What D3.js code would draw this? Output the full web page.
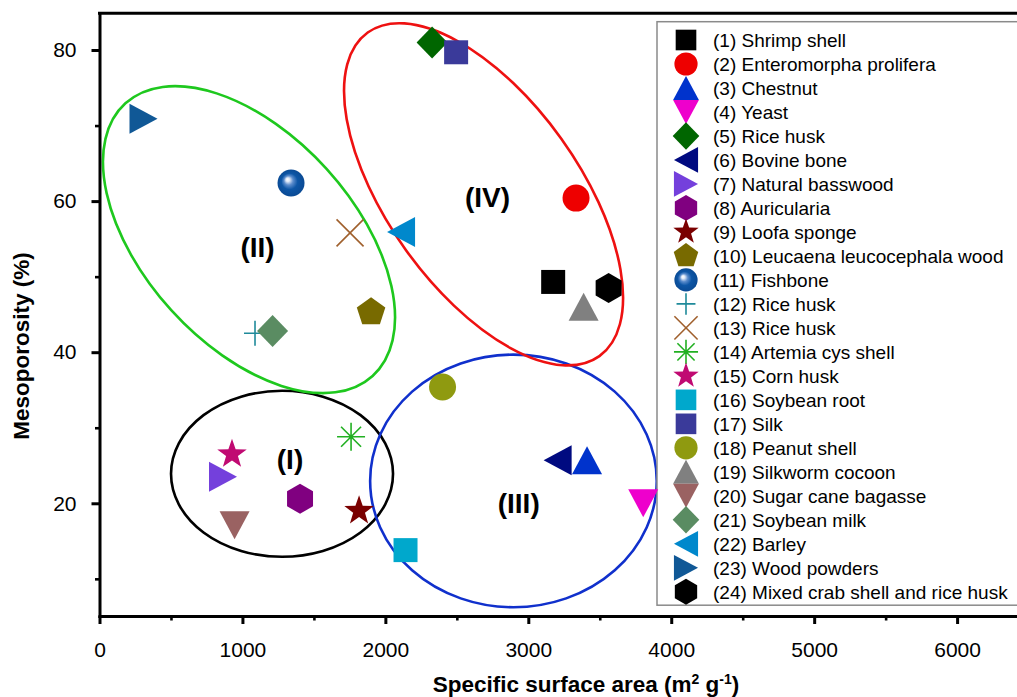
<!DOCTYPE html>
<html>
<head>
<meta charset="utf-8">
<script src="https://cdn.jsdelivr.net/npm/d3@7"></script>
<style>
  body { margin: 0; background: #fff; }
  svg { display: block; }
</style>
</head>
<body>
<svg id="chart" width="1017" height="697"></svg>
<script>
// Biochar precursors: specific surface area vs. mesoporosity
const materials = [
  "(1) Shrimp shell", "(2) Enteromorpha prolifera", "(3) Chestnut", "(4) Yeast",
  "(5) Rice husk", "(6) Bovine bone", "(7) Natural basswood", "(8) Auricularia",
  "(9) Loofa sponge", "(10) Leucaena leucocephala wood", "(11) Fishbone", "(12) Rice husk",
  "(13) Rice husk", "(14) Artemia cys shell", "(15) Corn husk", "(16) Soybean root",
  "(17) Silk", "(18) Peanut shell", "(19) Silkworm cocoon", "(20) Sugar cane bagasse",
  "(21) Soybean milk", "(22) Barley", "(23) Wood powders", "(24) Mixed crab shell and rice husk"
];
const surfaceArea = [3174, 3334, 3411, 3804, 2327, 3205, 864, 1403, 1816, 1900, 1340, 1088,
                     1753, 1760, 927, 2141, 2495, 2400, 3387, 945, 1211, 2110, 308, 3562];
const mesoporosity = [49.3, 60.4, 25.7, 20.0, 81.0, 25.7, 23.5, 20.6, 19.0, 45.3, 62.4, 42.5,
                      55.8, 28.8, 26.5, 13.8, 79.7, 35.4, 46.0, 17.1, 42.8, 55.9, 70.9, 48.5];
const markerShapes = ["square", "circle", "triangleUp", "triangleDown", "diamond", "triangleLeft",
  "triangleRight", "hexagon", "star", "pentagon", "sphere", "plus", "cross", "asterisk", "star",
  "square", "square", "circle", "triangleUp", "triangleDown", "diamond", "triangleLeft",
  "triangleRight", "hexagon"];
const markerColors = ["#000000", "#ee0000", "#0033cc", "#ee00cc", "#006600", "#000a80",
  "#7440dc", "#800080", "#7a0000", "#786a00", "#0b4f9e", "#1f8a9a", "#a0602d", "#22b022",
  "#c00a72", "#00a8cc", "#3a3a9a", "#8f9a10", "#808080", "#9a6262", "#5a8c62", "#0088cc",
  "#105896", "#000000"];

const xTicks = [0, 1000, 2000, 3000, 4000, 5000, 6000];
const xMinorTicks = [500, 1500, 2500, 3500, 4500, 5500, 6500];
const yTicks = [20, 40, 60, 80];
const yMinorTicks = [10, 30, 50, 70];

// Cluster groups (I)-(IV): centre and label anchor in data units
const clusterNames = ["(I)", "(II)", "(III)", "(IV)"];
const clusterCentreX = [1277, 1046, 2896, 2687];
const clusterCentreY = [23.9, 54.9, 22.96, 60.9];
const clusterLabelX = [1333, 1106, 2933, 2715];
const clusterLabelY = [25.9, 54.0, 20.1, 60.5];

// Outline drawing settings (semi-axes in px, rotation in degrees)
const clusterOutline = [
  { rx: 111, ry: 83, angle: 0, color: "#000000" },
  { rx: 184, ry: 105, angle: 47.8, color: "#1ec81e" },
  { rx: 143.3, ry: 126.3, angle: 0, color: "#1030cc" },
  { rx: 199, ry: 95.6, angle: 54.4, color: "#ee1111" }
];

const FONT = "'Liberation Sans', Arial, Helvetica, sans-serif";
const svg = d3.select("#chart");

const x = d3.scaleLinear().domain([0, 6580]).range([99.5, 1040]);
const y = d3.scaleLinear().domain([5.08, 84.86]).range([616, 13.3]);

// Marker glyphs
function poly(pts, k) {
  return "M" + pts.map(p => (p[0] * k).toFixed(2) + "," + (p[1] * k).toFixed(2)).join("L") + "Z";
}
function regular(n, r, rot) {
  return d3.range(n).map(i => {
    const a = rot + i * 2 * Math.PI / n;
    return [r * Math.cos(a), r * Math.sin(a)];
  });
}
function starPts(R, r) {
  return d3.range(10).map(i => {
    const a = -Math.PI / 2 + i * Math.PI / 5;
    const rr = i % 2 === 0 ? R : r;
    return [rr * Math.cos(a), rr * Math.sin(a)];
  });
}
function glyph(type, k) {
  switch (type) {
    case "square": return poly([[-12, -12], [12, -12], [12, 12], [-12, 12]], k);
    case "circle":
    case "sphere": {
      const p = d3.path(); p.arc(0, 0, 13.5 * k, 0, 2 * Math.PI); p.closePath(); return p.toString();
    }
    case "triangleUp": return poly([[0, -14], [15, 14], [-15, 14]], k);
    case "triangleDown": return poly([[0, 14], [15, -14], [-15, -14]], k);
    case "triangleLeft": return poly([[-14, 0], [14, -15], [14, 15]], k);
    case "triangleRight": return poly([[14, 0], [-14, -15], [-14, 15]], k);
    case "diamond": return poly([[0, -16], [15.5, 0], [0, 16], [-15.5, 0]], k);
    case "hexagon": return poly(regular(6, 15, -Math.PI / 2), k);
    case "pentagon": return poly(regular(5, 15, -Math.PI / 2), k);
    case "star": return poly(starPts(15.5, 6.2), k);
    case "plus": return `M${-11 * k},0H${11 * k}M0,${-12.5 * k}V${12.5 * k}`;
    case "cross": return `M${-13.5 * k},${-13.5 * k}L${13.5 * k},${13.5 * k}M${-13.5 * k},${13.5 * k}L${13.5 * k},${-13.5 * k}`;
    case "asterisk": {
      const a = 14 * k, d = 10 * k;
      return `M${-a},0H${a}M0,${-a}V${a}M${-d},${-d}L${d},${d}M${-d},${d}L${d},${-d}`;
    }
  }
}
const lineShapes = new Set(["plus", "cross", "asterisk"]);

// Gradient for the shaded sphere marker
const defs = svg.append("defs");
const grad = defs.append("radialGradient").attr("id", "sphereFill")
  .attr("cx", "0.5").attr("cy", "0.5").attr("r", "0.5")
  .attr("fx", "0.36").attr("fy", "0.36");
grad.append("stop").attr("offset", "0%").attr("stop-color", "#ffffff");
grad.append("stop").attr("offset", "14%").attr("stop-color", "#dfe8f6");
grad.append("stop").attr("offset", "34%").attr("stop-color", "#5b8ccc");
grad.append("stop").attr("offset", "60%").attr("stop-color", "#0d56a6");
grad.append("stop").attr("offset", "100%").attr("stop-color", "#0a4a94");

function styleMarker(sel) {
  sel.attr("fill", d => lineShapes.has(d.shape) ? "none" : (d.shape === "sphere" ? "url(#sphereFill)" : d.color))
     .attr("stroke", d => lineShapes.has(d.shape) ? d.color : "none")
     .attr("stroke-width", d => lineShapes.has(d.shape) ? 1.6 : 0);
}

const points = materials.map((name, i) => ({
  name, sa: surfaceArea[i], meso: mesoporosity[i], shape: markerShapes[i], color: markerColors[i]
}));

// Cluster outlines
const clusters = clusterNames.map((name, i) => ({
  name, cx: clusterCentreX[i], cy: clusterCentreY[i], lx: clusterLabelX[i], ly: clusterLabelY[i],
  ...clusterOutline[i]
}));
svg.append("g").selectAll("ellipse").data(clusters).join("ellipse")
  .attr("transform", d => `translate(${x(d.cx)},${y(d.cy)}) rotate(${d.angle})`)
  .attr("rx", d => d.rx).attr("ry", d => d.ry)
  .attr("fill", "none").attr("stroke", d => d.color).attr("stroke-width", 2.6);

svg.append("g").selectAll("text").data(clusters).join("text")
  .attr("x", d => x(d.lx)).attr("y", d => y(d.ly)).attr("dy", "0.36em")
  .attr("text-anchor", "middle")
  .attr("font-family", FONT).attr("font-weight", "bold").attr("font-size", 28)
  .attr("fill", "#000")
  .text(d => d.name);

// Legend
const legendTop = 40, legendStep = 23.99;
const legend = svg.append("g");
legend.append("rect").attr("x", 657).attr("y", 21.7).attr("width", 420).attr("height", 583.5)
  .attr("fill", "#fff").attr("stroke", "#8a8a8a").attr("stroke-width", 1.5);
const rows = legend.selectAll("g.row").data(points).join("g")
  .attr("class", "row")
  .attr("transform", (d, i) => `translate(0,${legendTop + i * legendStep})`);
rows.append("path").attr("transform", "translate(686,0)")
  .attr("d", d => glyph(d.shape, 0.86)).call(styleMarker);
rows.append("text").attr("x", 713).attr("dy", "0.36em")
  .attr("font-family", FONT).attr("font-size", 19).attr("fill", "#000")
  .text(d => d.name);

// Data markers
svg.append("g").selectAll("path").data(points).join("path")
  .attr("transform", d => `translate(${x(d.sa)},${y(d.meso)})`)
  .attr("d", d => glyph(d.shape, 1)).call(styleMarker);

// Axes
function styleAxis(g, size) {
  g.attr("font-family", FONT).attr("font-size", size);
  g.selectAll(".domain").attr("stroke-width", 3).attr("stroke-linecap", "square");
  g.selectAll(".tick line").attr("stroke-width", 3);
  g.selectAll("text").attr("fill", "#000");
}
const gxMinor = svg.append("g").attr("transform", `translate(0,${y.range()[0]})`)
  .call(d3.axisBottom(x).tickValues(xMinorTicks).tickSize(4.5).tickFormat(""));
gxMinor.select(".domain").remove();
gxMinor.selectAll(".tick line").attr("stroke-width", 2.6);

const gyMinor = svg.append("g").attr("transform", `translate(${x.range()[0]},0)`)
  .call(d3.axisLeft(y).tickValues(yMinorTicks).tickSize(4.5).tickFormat(""));
gyMinor.select(".domain").remove();
gyMinor.selectAll(".tick line").attr("stroke-width", 2.6);

svg.append("g").attr("transform", `translate(0,${y.range()[0]})`)
  .call(d3.axisBottom(x).tickValues(xTicks).tickSize(8).tickSizeOuter(0).tickPadding(18)
    .tickFormat(d3.format("d")))
  .call(g => styleAxis(g, 21));

svg.append("g").attr("transform", `translate(${x.range()[0]},0)`)
  .call(d3.axisLeft(y).tickValues(yTicks).tickSize(8).tickSizeOuter(0).tickPadding(15))
  .call(g => styleAxis(g, 21));

// Top frame line
svg.append("line")
  .attr("x1", x.range()[0]).attr("x2", x.range()[1])
  .attr("y1", y.range()[1]).attr("y2", y.range()[1])
  .attr("stroke", "#000").attr("stroke-width", 3).attr("stroke-linecap", "square");

// Axis titles
const xTitle = svg.append("text").attr("x", 586).attr("y", 692).attr("text-anchor", "middle")
  .attr("font-family", FONT).attr("font-weight", "bold").attr("font-size", 22.5).attr("fill", "#000");
xTitle.append("tspan").text("Specific surface area (m");
xTitle.append("tspan").attr("font-size", 14).attr("dy", -8).text("2");
xTitle.append("tspan").attr("dy", 8).text(" g");
xTitle.append("tspan").attr("font-size", 14).attr("dy", -8).text("-1");
xTitle.append("tspan").attr("dy", 8).text(")");

svg.append("text").attr("transform", "translate(29,346) rotate(-90)")
  .attr("text-anchor", "middle")
  .attr("font-family", FONT).attr("font-weight", "bold").attr("font-size", 22.5).attr("fill", "#000")
  .text("Mesoporosity (%)");
</script>
</body>
</html>
